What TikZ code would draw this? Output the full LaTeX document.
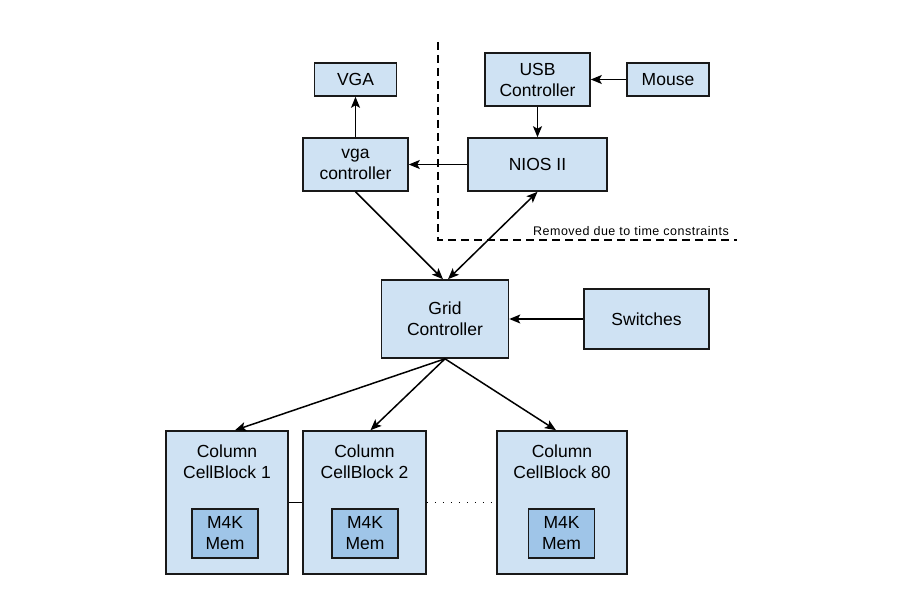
\documentclass[tikz,border=0pt]{standalone}
\usepackage{fontspec}
\setmainfont{Liberation Sans}
\usepackage{tikz}
\usetikzlibrary{arrows.meta,positioning}

\definecolor{boxblue}{HTML}{CFE2F3}
\definecolor{memblue}{HTML}{9FC5E8}

\begin{document}
\begin{tikzpicture}[x=1pt, y=-1pt,
    >={Stealth[length=11pt, width=9pt, inset=2.5pt]},
    block/.style={rectangle, draw=black!90, line width=1.6pt, fill=boxblue, align=center,
        inner sep=0pt, font=\fontsize{17.5}{21}\selectfont},
    memblock/.style={block, fill=memblue, minimum width=66pt, minimum height=49pt},
    colblock/.style={block, minimum height=143pt},
    coltitle/.style={align=center, font=\fontsize{17.5}{21}\selectfont},
    arrow/.style={->, line width=1.5pt},
    cutline/.style={line width=1.5pt, dash pattern=on 8pt off 5pt}]

    \fill[white] (0,0) rectangle (900,615);
    \useasboundingbox (0,0) rectangle (900,615);

    % top part
    \node[block, minimum width=82pt, minimum height=33pt] (vga) at (355.5,79.5) {VGA};
    \node[block, minimum width=105pt, minimum height=53pt] (usb) at (537.5,79.5) {USB\\Controller};
    \node[block, minimum width=82pt, minimum height=33pt] (mouse) at (668,79.5) {Mouse};
    \node[block, minimum width=105pt, minimum height=53pt] (vgactrl) at (355.5,164.5) {vga\\controller};
    \node[block, minimum width=139pt, minimum height=53pt] (nios) at (537.5,164.5) {NIOS II};

    % removed part
    \coordinate (cuttop) at (438,42);
    \coordinate (cutcorner) at (438,240);
    \coordinate (cutend) at (737,240);
    \draw[cutline] (cuttop) -- (cutcorner) -- (cutend);
    \node[font=\fontsize{12.5}{14}\selectfont, inner sep=0pt] (removed) at (631,231.5)
        {\addfontfeature{LetterSpace=4}Removed due to time constraints};

    % grid
    \node[block, minimum width=127pt, minimum height=78pt] (grid) at (445,319) {Grid\\Controller};
    \node[block, minimum width=125pt, minimum height=60pt] (switches) at (646.5,319) {Switches};

    % columns
    \node[colblock, minimum width=122pt] (cb1) at (227,502.5) {};
    \node[colblock, minimum width=123pt] (cb2) at (364.5,502.5) {};
    \node[colblock, minimum width=130pt] (cb80) at (562,502.5) {};
    \node[coltitle] (cb1title) at (227,461.5) {Column\\CellBlock 1};
    \node[coltitle] (cb2title) at (364.5,461.5) {Column\\CellBlock 2};
    \node[coltitle] (cb80title) at (562,461.5) {Column\\CellBlock 80};
    \node[memblock] (mem1) at (225,533.5) {M4K\\Mem};
    \node[memblock] (mem2) at (365,533.5) {M4K\\Mem};
    \node[memblock] (mem80) at (561.5,533.5) {M4K\\Mem};

    \draw[arrow] (mouse) -- (usb);
    \draw[arrow] (usb) -- (nios);
    \draw[arrow] (nios) -- (vgactrl);
    \draw[arrow] (vgactrl) -- (vga);
    \draw[arrow] (vgactrl.south) -- ([xshift=-2pt]grid.north);
    \draw[arrow, <->] (nios.south) -- ([xshift=3pt]grid.north);
    \draw[arrow] (switches) -- (grid);
    \draw[arrow] (grid.south) -- ([xshift=8pt]cb1.north);
    \draw[arrow] (grid.south) -- ([xshift=6pt]cb2.north);
    \draw[arrow] (grid.south) -- ([xshift=-6pt]cb80.north);
    \draw[line width=1.5pt] (cb1.east) -- (cb2.west);
    \draw[line width=1.5pt, dash pattern=on 1.5pt off 6.5pt] (cb2.east) -- (cb80.west);
\end{tikzpicture}
\end{document}
